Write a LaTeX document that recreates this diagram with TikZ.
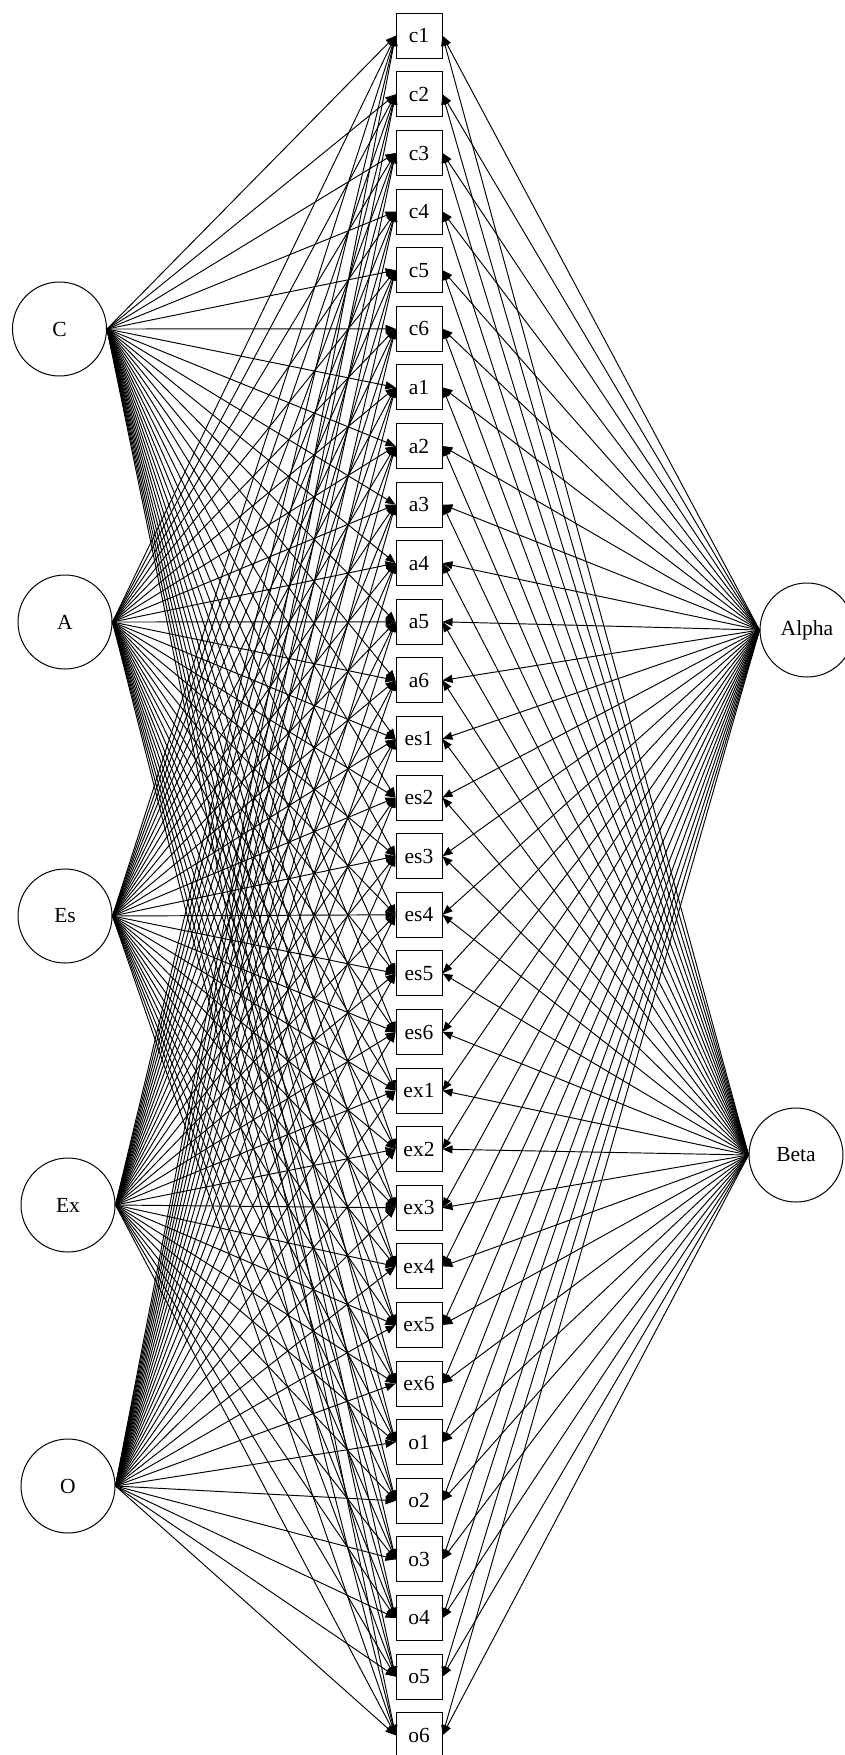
\documentclass[tikz,border=0pt]{standalone}
\usepackage{fontspec}
\setmainfont{Liberation Serif}
\usetikzlibrary{arrows.meta}
\begin{document}
\begin{tikzpicture}[x=1pt,y=1pt,
  latent/.style={circle,draw,line width=1pt,minimum size=94pt,inner sep=0pt,font=\fontsize{21.5}{24}\selectfont},
  obs/.style={rectangle,draw,line width=1pt,minimum width=46pt,minimum height=45pt,inner sep=0pt,font=\fontsize{21.5}{24}\selectfont},
  load/.style={line width=0.95pt,-{Triangle[length=10pt,width=8pt]}}]
\useasboundingbox (0,0) rectangle (845,-1755);
\clip (0,0) rectangle (845,-1755);
% indicator boxes in one column
\foreach \n [count=\k from 0] in {c1,c2,c3,c4,c5,c6,a1,a2,a3,a4,a5,a6,es1,es2,es3,es4,es5,es6,ex1,ex2,ex3,ex4,ex5,ex6,o1,o2,o3,o4,o5,o6}
  \node[obs] (\n) at (419,{-(35.8+58.6*\k)}) {\n};
% latent factors
\node[latent] (C)  at (59.5,-329) {C};
\node[latent] (A)  at (65,-622) {A};
\node[latent] (Es) at (65,-916) {Es};
\node[latent] (Ex) at (68,-1205) {Ex};
\node[latent] (O)  at (68,-1486) {O};
\node[latent] (Alpha) at (807,-630) {Alpha};
\node[latent] (Beta)  at (796,-1155) {Beta};
% loadings
\foreach \n in {c1,c2,c3,c4,c5,c6,a1,a2,a3,a4,a5,a6,es1,es2,es3,es4,es5,es6,ex1,ex2,ex3,ex4,ex5,ex6,o1,o2,o3,o4,o5,o6}{
  \foreach \f in {C,A,Es,Ex,O}
    \draw[load] (\f.east) -- (\n.west);
  \foreach \f in {Alpha,Beta}
    \draw[load] (\f.west) -- (\n.east);
}
\end{tikzpicture}
\end{document}
